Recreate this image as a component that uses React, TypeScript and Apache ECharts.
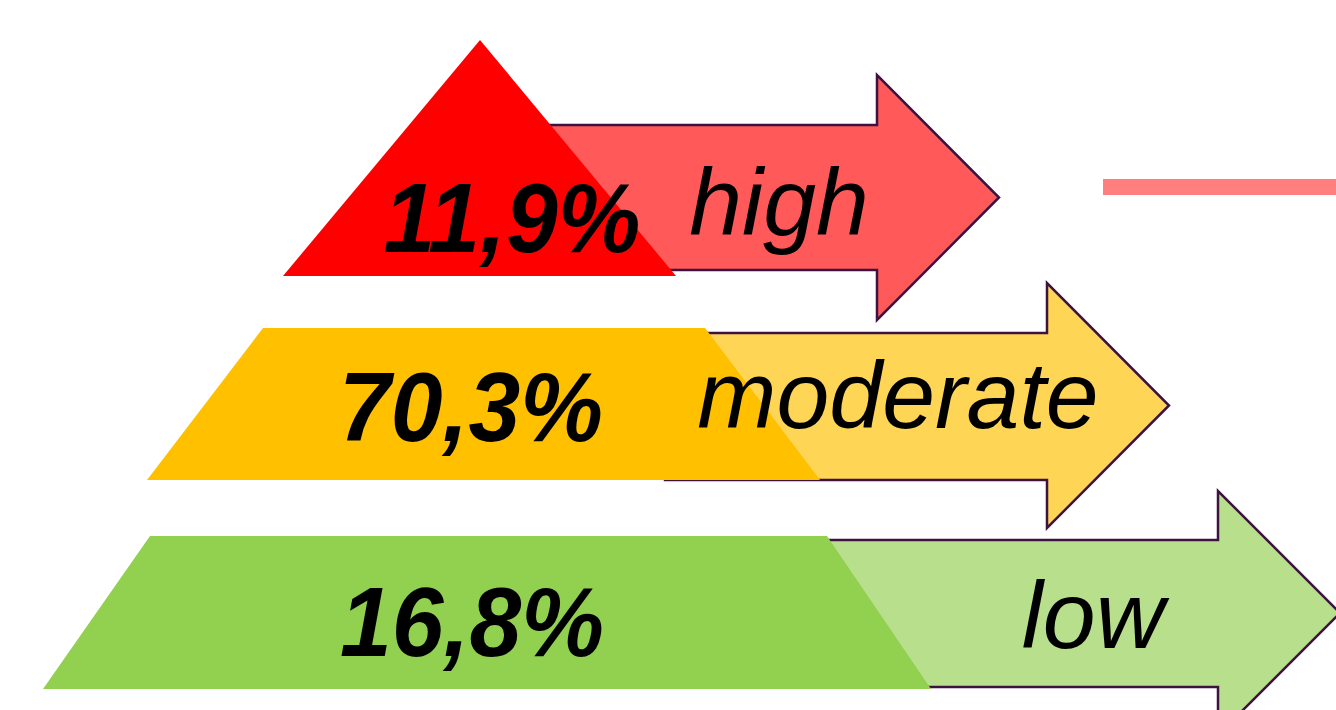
import React, { useEffect, useRef } from "react";
import * as echarts from "echarts";

// ---- data ----
const levels: string[] = ["high", "moderate", "low"];
const shares: number[] = [11.9, 70.3, 16.8];

// ---- styling ----
const baseColors = ["#FF0000", "#FFC000", "#92D050"];
const arrowColors = ["#FF5959", "#FFD555", "#B8E08C"];
const strokeColor = "#3D1240";

// ---- layout (pixel geometry of each level, in chart coordinates) ----
type Geom = {
  base: number[][];
  shaftX0: number; shaftTop: number; shaftBottom: number;
  headX: number; headTop: number; headBottom: number; tipX: number;
  pctX: number; pctY: number; labX: number; labY: number;
};
const GEOM: Geom[] = [
  {
    base: [[480, 40], [676, 276], [283, 276]],
    shaftX0: 545, shaftTop: 125, shaftBottom: 270,
    headX: 877, headTop: 75, headBottom: 320, tipX: 999,
    pctX: 512, pctY: 218, labX: 779, labY: 202,
  },
  {
    base: [[263, 328], [705, 328], [820, 480], [147, 480]],
    shaftX0: 665, shaftTop: 333, shaftBottom: 480,
    headX: 1047, headTop: 283, headBottom: 528, tipX: 1169,
    pctX: 471, pctY: 407, labX: 898, labY: 395,
  },
  {
    base: [[150, 536], [827, 536], [931, 689], [43, 689]],
    shaftX0: 790, shaftTop: 540, shaftBottom: 687,
    headX: 1218, headTop: 491, headBottom: 735, tipX: 1340,
    pctX: 472, pctY: 622, labX: 1093, labY: 615,
  },
];

const fmtPct = (v: number) => v.toFixed(1).replace(".", ",") + "%";

export default function App() {
  const ref = useRef<HTMLDivElement>(null);
  useEffect(() => {
    if (!ref.current) return;
    const chart = echarts.init(ref.current, undefined, { renderer: "svg" });
    const renderItem = (params: any, api: any) => {
      const i = params.dataIndex;
      const g = GEOM[i];
      const c = (x: number, y: number) => api.coord([x, y]);
      const mid = (g.headTop + g.headBottom) / 2;
      const arrowPts = [
        c(g.shaftX0, g.shaftTop),
        c(g.headX, g.shaftTop),
        c(g.headX, g.headTop),
        c(g.tipX, mid),
        c(g.headX, g.headBottom),
        c(g.headX, g.shaftBottom),
        c(g.shaftX0, g.shaftBottom),
      ];
      const basePts = g.base.map((p) => c(p[0], p[1]));
      const pc = c(g.pctX, g.pctY);
      const lc = c(g.labX, g.labY);
      return {
        type: "group",
        children: [
          {
            type: "polygon",
            shape: { points: arrowPts },
            style: { fill: arrowColors[i], stroke: strokeColor, lineWidth: 2.5 },
          },
          {
            type: "polygon",
            shape: { points: basePts },
            style: { fill: baseColors[i] },
          },
          {
            type: "group",
            x: pc[0],
            y: pc[1],
            scaleX: 0.95,
            children: [
              {
                type: "text",
                style: {
                  text: fmtPct(api.value(1)),
                  x: 0,
                  y: 0,
                  fill: "#000",
                  font: 'italic bold 98px "Liberation Sans", Arial, sans-serif',
                  textAlign: "center",
                  textVerticalAlign: "middle",
                },
              },
            ],
          },
          {
            type: "text",
            style: {
              text: levels[i],
              x: lc[0],
              y: lc[1],
              fill: "#000",
              font: 'italic 95px "Liberation Sans", Arial, sans-serif',
              textAlign: "center",
              textVerticalAlign: "middle",
            },
          },
        ],
      };
    };
    chart.setOption({
      animation: false,
      backgroundColor: "#ffffff",
      grid: { left: 0, right: 0, top: 0, bottom: 0 },
      xAxis: { type: "value", min: 0, max: 1336, show: false },
      yAxis: { type: "value", min: 0, max: 710, inverse: true, show: false },
      graphic: [
        {
          type: "rect",
          shape: { x: 1103, y: 179, width: 240, height: 16 },
          style: { fill: "#FF7F7F" },
          z: 1,
        },
      ],
      series: [
        {
          type: "custom",
          clip: false,
          renderItem,
          data: shares.map((v, i) => [i, v]),
        },
      ],
    });
    return () => chart.dispose();
  }, []);
  return (
    <div
      ref={ref}
      style={{ position: "fixed", left: 0, top: 0, width: 1336, height: 710 }}
    />
  );
}
